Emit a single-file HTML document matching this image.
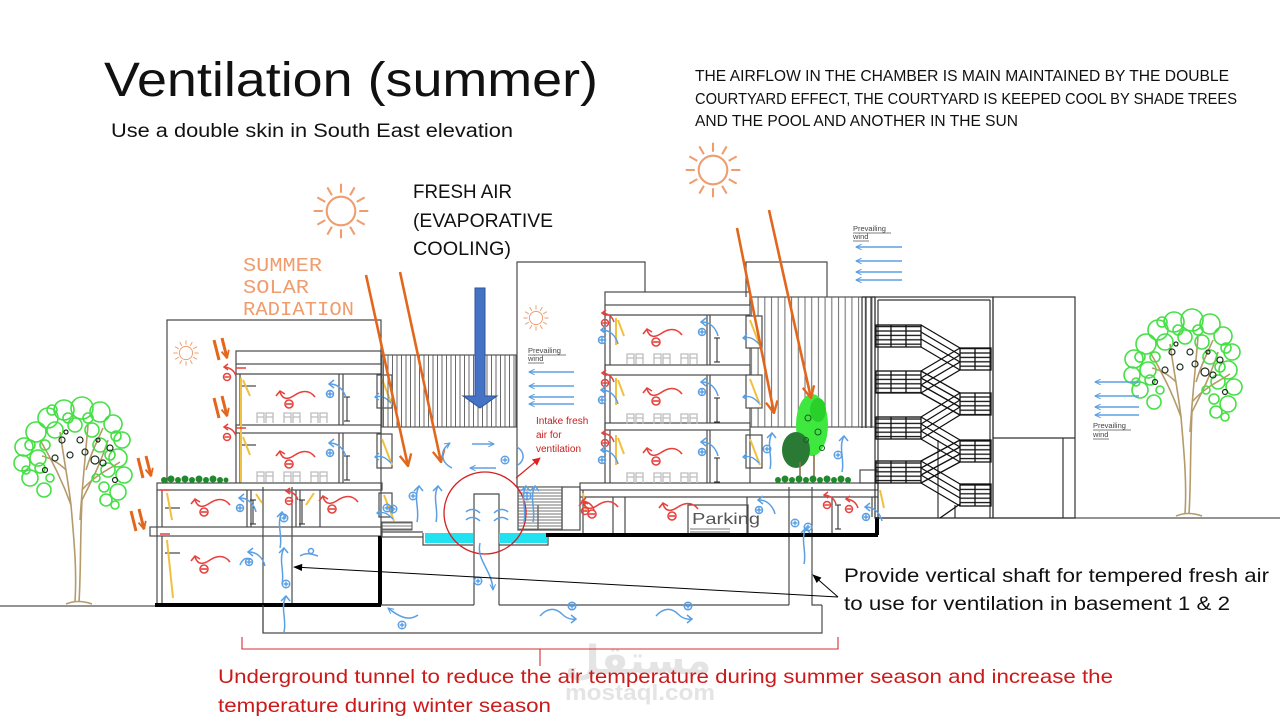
<!DOCTYPE html>
<html><head><meta charset="utf-8">
<style>
html,body{margin:0;padding:0;background:#fff;}
svg{display:block;}
text{font-family:"Liberation Sans","DejaVu Sans",sans-serif;}
text.mono{font-family:"Liberation Mono",monospace;}
text.ar{font-family:"DejaVu Sans",sans-serif;}
</style></head><body>
<svg xmlns="http://www.w3.org/2000/svg" width="1280" height="720" viewBox="0 0 1280 720">
<defs>
<marker id="mo" viewBox="0 0 12 12" refX="11" refY="6" markerWidth="14" markerHeight="14" markerUnits="userSpaceOnUse" orient="auto"><path d="M1,1 L11,6 L1,11" fill="none" stroke="#e2671c" stroke-width="2"/></marker>
<marker id="mo2" viewBox="0 0 12 12" refX="11" refY="6" markerWidth="9" markerHeight="9" markerUnits="userSpaceOnUse" orient="auto"><path d="M1,1 L11,6 L1,11" fill="none" stroke="#e2671c" stroke-width="2.5"/></marker>
<marker id="mb" viewBox="0 0 10 10" refX="9" refY="5" markerWidth="7" markerHeight="7" markerUnits="userSpaceOnUse" orient="auto"><path d="M1,1 L9,5 L1,9" fill="none" stroke="#5b9fe3" stroke-width="1.5"/></marker>
<marker id="mr" viewBox="0 0 10 10" refX="9" refY="5" markerWidth="8" markerHeight="8" markerUnits="userSpaceOnUse" orient="auto"><path d="M0,0 L10,5 L0,10 z" fill="#e02020"/></marker>
<marker id="mk" viewBox="0 0 10 10" refX="9" refY="5" markerWidth="11" markerHeight="9" markerUnits="userSpaceOnUse" orient="auto"><path d="M0,1 L10,5 L0,9 z" fill="#000"/></marker>
<pattern id="vs" width="4.5" height="10" patternUnits="userSpaceOnUse"><line x1="1" y1="0" x2="1" y2="10" stroke="#6a6a6a" stroke-width="1"/></pattern>
<pattern id="vs2" width="6.7" height="10" patternUnits="userSpaceOnUse"><line x1="1" y1="0" x2="1" y2="10" stroke="#777" stroke-width="1.1"/></pattern>
<pattern id="hs" width="10" height="3" patternUnits="userSpaceOnUse"><line x1="0" y1="1" x2="10" y2="1" stroke="#666" stroke-width="0.9"/></pattern>
<pattern id="ls" width="10" height="4.4" patternUnits="userSpaceOnUse"><line x1="0" y1="1" x2="10" y2="1" stroke="#111" stroke-width="1.3"/></pattern>

<g id="rs" fill="none" stroke="#e8413c" stroke-width="1.6">
<path d="M40,2 C34,-6 26,-4 20,0 C14,4 8,6 5,-3"/>
<path d="M1,1 L5,-4 L10,-1"/>
<circle cx="14" cy="9" r="4"/><path d="M11,9 H17"/>
</g>
<g id="rsm" fill="none" stroke="#e8413c" stroke-width="1.5">
<path d="M14,10 C12,4 8,2 3,1"/><path d="M6,-2 L2,1 L6,4"/>
<circle cx="5" cy="11" r="3.5"/><path d="M2.5,11 H7.5"/>
</g>
<g id="bs" fill="none" stroke="#5b9fe3" stroke-width="1.5">
<path d="M20,14 C18,6 12,0 4,0"/>
<path d="M8,-4 L3,0 L8,4"/>
<circle cx="4" cy="10" r="3.5"/><path d="M1.5,10 H6.5 M4,7.5 V12.5"/>
</g>
<g id="bu" fill="none" stroke="#5b9fe3" stroke-width="1.5">
<path d="M6,36 C9,24 2,12 8,0"/>
<path d="M3,5 L8,0 L12,5"/>
</g>
<g id="bp" fill="none" stroke="#5b9fe3" stroke-width="1.4">
<circle cx="0" cy="0" r="3.8"/><path d="M-2.5,0 H2.5 M0,-2.5 V2.5"/>
</g>
<g id="bt" fill="none" stroke="#5b9fe3" stroke-width="1.5">
<path d="M0,8 C8,-1 16,0 22,6 C26,10 30,12 36,11"/><path d="M31,7 L36,11 L31,15"/>
<circle cx="32" cy="-2" r="3.8"/><path d="M29.5,-2 H34.5 M32,-4.5 V0.5"/>
</g>
<g id="wy" fill="none">
<path d="M3,2 L13,28" stroke="#f0c040" stroke-width="2"/>
<path d="M12,26 C8,22 4,18 -4,20" stroke="#5b9fe3" stroke-width="1.4"/>
<path d="M0,16 L-4,20 L0,23" stroke="#5b9fe3" stroke-width="1.3"/>
</g>
<g id="fa" fill="none" stroke="#bdbdbd" stroke-width="1.3">
<path d="M0,11 V1 H7 V11 M0,5 H7 M9,11 V1 H16 V11 M9,5 H16"/>
<path d="M27,11 V1 H34 V11 M27,5 H34 M36,11 V1 H43 V11 M36,5 H43"/>
<path d="M54,11 V1 H61 V11 M54,5 H61 M63,11 V1 H70 V11 M63,5 H70"/>
</g>
<g id="dm" stroke="#222" stroke-width="1" fill="none">
<path d="M0,0 V24 M-3,0 H3 M-3,24 H3"/>
</g>
<g id="sun" fill="none" stroke="#ef9d6e" stroke-width="1.6">
<circle cx="0" cy="0" r="11"/>
<path d="M14,0 L21,0 M12.1,7 L18.2,10.5 M7,12.1 L10.5,18.2 M0,14 L0,21 M-7,12.1 L-10.5,18.2 M-12.1,7 L-18.2,10.5 M-14,0 L-21,0 M-12.1,-7 L-18.2,-10.5 M-7,-12.1 L-10.5,-18.2 M0,-14 L0,-21 M7,-12.1 L10.5,-18.2 M12.1,-7 L18.2,-10.5"/>
</g>
<g id="dd">
<path d="M0,0 L5,20 M8,-2 L13,18" stroke="#e2671c" stroke-width="3" fill="none" marker-end="url(#mo2)"/>
</g>
<g id="tree">
<g fill="none" stroke="#b59a6a" stroke-width="1.6">
<path d="M75,602 C77,570 74,540 71,505"/>
<path d="M79,602 C81,570 80,540 82,500"/>
<path d="M71,505 C62,480 52,460 40,440"/>
<path d="M71,505 C68,480 64,460 60,432"/>
<path d="M80,520 C82,490 85,460 88,425"/>
<path d="M82,500 C92,480 100,465 108,440"/>
<path d="M82,490 C95,475 108,470 120,462"/>
<path d="M66,470 C58,462 50,458 42,456"/>
<path d="M86,470 C92,450 98,440 103,428"/>
<path d="M66,604 Q78,599 92,604"/>
</g>
<g fill="none" stroke="#44e044" stroke-width="1.6">
<circle cx="48" cy="418" r="10"/><circle cx="64" cy="410" r="10"/><circle cx="82" cy="408" r="11"/><circle cx="100" cy="412" r="10"/><circle cx="113" cy="424" r="9"/><circle cx="36" cy="432" r="10"/><circle cx="24" cy="447" r="9"/><circle cx="22" cy="463" r="8"/><circle cx="30" cy="478" r="8"/><circle cx="44" cy="490" r="7"/><circle cx="38" cy="458" r="8"/><circle cx="55" cy="430" r="8"/><circle cx="122" cy="440" r="8"/><circle cx="118" cy="458" r="9"/><circle cx="124" cy="475" r="8"/><circle cx="118" cy="492" r="8"/><circle cx="106" cy="500" r="6"/><circle cx="108" cy="470" r="7"/><circle cx="92" cy="430" r="7"/><circle cx="75" cy="425" r="7"/><circle cx="100" cy="445" r="7"/>
<circle cx="45" cy="445" r="5"/><circle cx="30" cy="445" r="5"/><circle cx="40" cy="468" r="5"/><circle cx="50" cy="478" r="4"/><circle cx="52" cy="410" r="5"/><circle cx="88" cy="418" r="5"/><circle cx="110" cy="455" r="5"/><circle cx="104" cy="487" r="5"/><circle cx="115" cy="505" r="4"/><circle cx="96" cy="478" r="4"/><circle cx="68" cy="418" r="5"/><circle cx="116" cy="436" r="5"/><circle cx="26" cy="470" r="4"/>
</g>
<g fill="none" stroke="#1e2e1e" stroke-width="1.2">
<circle cx="62" cy="440" r="3"/><circle cx="70" cy="455" r="3"/><circle cx="85" cy="452" r="3"/><circle cx="95" cy="460" r="4"/><circle cx="103" cy="463" r="3"/><circle cx="55" cy="458" r="3"/><circle cx="110" cy="448" r="3"/><circle cx="80" cy="440" r="3"/><circle cx="45" cy="470" r="2.5"/><circle cx="115" cy="480" r="2.5"/><circle cx="66" cy="432" r="2"/><circle cx="98" cy="440" r="2"/>
</g>
</g>
</defs>

<rect width="1280" height="720" fill="#fff"/>

<!-- watermark (behind) -->
<text class="ar" x="565" y="674" font-size="40" font-weight="bold" fill="#e4e4e4">مستقل</text>
<text x="565" y="700" font-size="22" font-weight="bold" fill="#e4e4e4" textLength="150" lengthAdjust="spacingAndGlyphs">mostaql.com</text>

<!-- TEXT HEADERS -->
<text x="104" y="96" font-size="48" textLength="494" lengthAdjust="spacingAndGlyphs" fill="#111">Ventilation (summer)</text>
<text x="111" y="137" font-size="19" textLength="402" lengthAdjust="spacingAndGlyphs" fill="#111">Use a double skin in South East  elevation</text>
<g font-size="15.5" fill="#111">
<text x="695" y="81" textLength="534" lengthAdjust="spacingAndGlyphs">THE AIRFLOW IN THE CHAMBER IS MAIN MAINTAINED BY THE DOUBLE</text>
<text x="695" y="104" textLength="542" lengthAdjust="spacingAndGlyphs">COURTYARD EFFECT, THE COURTYARD IS KEEPED COOL BY SHADE TREES</text>
<text x="695" y="126" textLength="323" lengthAdjust="spacingAndGlyphs">AND THE POOL AND ANOTHER IN THE SUN</text>
</g>
<g font-size="19" fill="#111">
<text x="413" y="198" textLength="99" lengthAdjust="spacingAndGlyphs">FRESH AIR</text>
<text x="413" y="227" textLength="140" lengthAdjust="spacingAndGlyphs">(EVAPORATIVE</text>
<text x="413" y="255" textLength="98" lengthAdjust="spacingAndGlyphs">COOLING)</text>
</g>
<g font-size="19" fill="#ef9d6e">
<text class="mono" x="243" y="271" textLength="79" lengthAdjust="spacingAndGlyphs">SUMMER</text>
<text class="mono" x="243" y="293" textLength="66" lengthAdjust="spacingAndGlyphs">SOLAR</text>
<text class="mono" x="243" y="315" textLength="111" lengthAdjust="spacingAndGlyphs">RADIATION</text>
</g>

<!-- suns -->
<use href="#sun" transform="translate(341,211) scale(1.3)"/>
<use href="#sun" transform="translate(713,170) scale(1.3)"/>
<use href="#sun" transform="translate(186,353) scale(0.6)"/>
<use href="#sun" transform="translate(536,318) scale(0.6)"/>

<!-- GROUND -->
<g stroke="#555" stroke-width="1.3" fill="none">
<path d="M0,606 H156"/>
<path d="M878,518 H1280"/>
</g>

<!-- LEFT BUILDING -->
<g stroke="#4a4a4a" stroke-width="1.2" fill="none">
<path d="M167,483 V320 H381 V536"/>
<rect x="236" y="351" width="145" height="13"/>
<path d="M236,374 H381"/>
<rect x="236" y="425" width="145" height="8"/>
<rect x="157" y="483" width="225" height="7"/>
<rect x="150" y="527" width="232" height="9"/>
<path d="M236,364 V483 M240,374 V425 M240,433 V483"/>
<path d="M339,374 V425 M343,374 V425 M339,433 V483 M343,433 V483"/>
<rect x="377" y="375" width="15" height="33"/>
<rect x="377" y="434" width="15" height="34"/>
<rect x="379" y="493" width="13" height="24"/>
<path d="M157,490 V605 M162,490 V527 M162,536 V605"/>
<path d="M247,490 V527 M251,490 V527 M296,490 V527 M300,490 V527 M320,490 V527"/>
<path d="M263,487 V633 M292,487 V605"/>
<path d="M240,386 H256 M240,445 H256 M165,508 H180 M165,553 H180"/>
</g>
<path d="M241,378 V482" stroke="#f0c040" stroke-width="2"/>
<path d="M243,380 L250,396 M243,437 L250,455 M167,493 L172,520 M167,540 L173,598 M314,493 L306,505 M256,494 L262,503" stroke="#f0c040" stroke-width="2" fill="none"/>
<path d="M155,605 H381 M380,536 V605" stroke="#000" stroke-width="4"/>
<!-- hedge -->
<g fill="#1f8a2c"><circle cx="164" cy="480" r="3"/><circle cx="171" cy="479" r="3.5"/><circle cx="178" cy="480" r="3"/><circle cx="185" cy="479" r="3.5"/><circle cx="192" cy="480" r="3"/><circle cx="199" cy="479" r="3.5"/><circle cx="206" cy="480" r="3"/><circle cx="213" cy="479" r="3.5"/><circle cx="220" cy="480" r="3"/><circle cx="226" cy="480" r="2.5"/></g>
<use href="#fa" x="257" y="412"/>
<use href="#fa" x="257" y="471"/>
<use href="#dm" x="347" y="397"/>
<use href="#dm" x="347" y="456"/>
<use href="#dm" x="253" y="500"/>
<use href="#dm" x="302" y="500"/>
<use href="#wy" x="379" y="377"/>
<use href="#wy" x="379" y="437"/>
<use href="#wy" x="381" y="493"/>

<!-- MIDDLE -->
<rect x="382" y="355" width="134" height="72" fill="url(#vs)" stroke="#555" stroke-width="1.2"/>
<g stroke="#4a4a4a" stroke-width="1.2" fill="none">
<path d="M517,487 V262 H645 V292"/>
<path d="M382,532 H423 M423,533 V545 H473 M499,545 H548 V533"/>
<path d="M474,605 V494 H499 V605"/>
<path d="M381,605 H474 M499,605 H789 M381,537 H423"/>
<rect x="518" y="487" width="44" height="43"/>
<rect x="562" y="487" width="18" height="43"/>
<path d="M538,505 V530"/>
</g>
<rect x="382" y="522" width="30" height="8" fill="url(#hs)" stroke="#555" stroke-width="1"/>
<rect x="518" y="487" width="44" height="43" fill="url(#hs)"/>
<rect x="425" y="533" width="48" height="10" fill="#22e2f2"/>
<rect x="499" y="533" width="48" height="10" fill="#22e2f2"/>

<!-- stripes right -->
<rect x="750" y="297" width="125" height="130" fill="url(#vs2)" stroke="#555" stroke-width="1.2"/>
<g stroke="#4a4a4a" stroke-width="1.2" fill="none">
<path d="M746,297 V262 H827 V297"/>
<rect x="605" y="292" width="145" height="13"/>
<path d="M605,315 H750"/>
<rect x="605" y="365" width="145" height="10" fill="#fff"/>
<rect x="605" y="423" width="145" height="7" fill="#fff"/>
<path d="M605,305 V483 M610,315 V365 M610,375 V423 M610,430 V483"/>
<path d="M707,315 V365 M710,315 V365 M707,375 V423 M710,375 V423 M707,430 V483 M710,430 V483"/>
<rect x="746" y="316" width="16" height="32" fill="#fff"/>
<rect x="746" y="375" width="16" height="33" fill="#fff"/>
<rect x="746" y="435" width="16" height="33" fill="#fff"/>
<path d="M750,430 V483"/>
<rect x="580" y="483" width="298" height="7"/>
<path d="M580,497 H878"/>
<path d="M583,490 V535 M613,497 V535 M625,497 V535 M747,497 V535 M789,487 V605 M812,487 V605 H822 M832,497 V535 M872,497 V517"/>
<rect x="688" y="505" width="60" height="30"/>
<path d="M263,605 V633 H822 V605"/>
<rect x="860" y="470" width="18" height="13"/>
</g>
<rect x="690" y="528" width="40" height="6" fill="url(#hs)"/>
<path d="M546,535 H878 M877,517 V535" stroke="#000" stroke-width="4" fill="none"/>
<path d="M616,318 V345 M616,378 V405 M616,435 V465" stroke="#f0c040" stroke-width="2"/>
<path d="M618,320 L624,336 M618,380 L624,396 M618,438 L624,454 M583,493 L586,512 M880,490 L884,508" stroke="#f0c040" stroke-width="2" fill="none"/>
<use href="#wy" x="747" y="318"/>
<use href="#wy" x="747" y="377"/>
<use href="#wy" x="747" y="437"/>
<use href="#fa" x="627" y="353"/>
<use href="#fa" x="627" y="413"/>
<use href="#fa" x="627" y="472"/>
<use href="#dm" x="717" y="338"/>
<use href="#dm" x="717" y="398"/>
<use href="#dm" x="717" y="458"/>
<use href="#dm" x="838" y="505"/>
<text x="692" y="524" font-size="16" fill="#555" textLength="68" lengthAdjust="spacingAndGlyphs">Parking</text>

<!-- courtyard tree -->
<ellipse cx="812" cy="425" rx="16" ry="31" fill="#3ee83e"/>
<ellipse cx="796" cy="450" rx="14" ry="18" fill="#2a7a35"/>
<ellipse cx="818" cy="410" rx="8" ry="12" fill="#2ad02a"/>
<g fill="none" stroke="#1a5a22" stroke-width="1"><circle cx="808" cy="418" r="3"/><circle cx="818" cy="432" r="3"/><circle cx="806" cy="440" r="2.5"/><circle cx="822" cy="448" r="2.5"/></g>
<path d="M800,462 V480 M814,455 V480" stroke="#8a7050" stroke-width="1.6"/>
<g fill="#1f8a2c"><circle cx="778" cy="480" r="3"/><circle cx="785" cy="479" r="3.5"/><circle cx="792" cy="480" r="3"/><circle cx="799" cy="479" r="3.5"/><circle cx="806" cy="480" r="3"/><circle cx="813" cy="479" r="3.5"/><circle cx="820" cy="480" r="3"/><circle cx="827" cy="479" r="3.5"/><circle cx="834" cy="480" r="3"/><circle cx="841" cy="479" r="3.5"/><circle cx="848" cy="480" r="3"/></g>

<!-- STAIR BLOCK -->
<g stroke="#333" stroke-width="1.2" fill="none">
<rect x="875" y="297" width="118" height="221"/>
<path d="M878,300 V518 M878,300 H990 M990,300 V518"/>
<path d="M862,297 H875 M862,297 V428 M866,297 V428 M871,297 V428"/>
<rect x="993" y="297" width="82" height="221"/>
<path d="M993,438 H1075 M1063,438 V518"/>
<path d="M938,440 V518 M955,505 V518"/>
</g>
<g stroke="#111" stroke-width="1.3">
<rect x="876" y="325" width="45" height="22" fill="url(#ls)"/>
<rect x="876" y="371" width="45" height="22" fill="url(#ls)"/>
<rect x="876" y="417" width="45" height="22" fill="url(#ls)"/>
<rect x="876" y="461" width="45" height="22" fill="url(#ls)"/>
<rect x="960" y="348" width="31" height="22" fill="url(#ls)"/>
<rect x="960" y="393" width="31" height="22" fill="url(#ls)"/>
<rect x="960" y="440" width="31" height="22" fill="url(#ls)"/>
<rect x="960" y="484" width="31" height="22" fill="url(#ls)"/>
<path d="M891,325 V347 M906,325 V347 M891,371 V393 M906,371 V393 M891,417 V439 M906,417 V439 M891,461 V483 M906,461 V483 M975,348 V370 M975,393 V415 M975,440 V462 M975,484 V506" fill="none"/>
<path fill="none" d="M921,325L960,348 M921,332L960,355 M921,339L960,362 M921,347L960,370 M960,348L921,371 M960,355L921,378 M960,362L921,385 M960,370L921,393 M921,371L960,393 M921,378L960,400 M921,385L960,407 M921,393L960,415 M960,393L921,417 M960,400L921,424 M960,407L921,431 M960,415L921,439 M921,417L960,440 M921,424L960,447 M921,431L960,454 M921,439L960,462 M960,440L921,461 M960,447L921,468 M960,454L921,475 M960,462L921,483 M921,461L960,484 M921,468L960,491 M921,475L960,498 M921,483L960,506 M940,518 L960,504"/>
</g>

<!-- TREES -->
<use href="#tree"/>
<use href="#tree" transform="translate(1110,-88)"/>

<!-- ORANGE RAYS -->
<g stroke="#e2671c" stroke-width="2.6" fill="none" marker-end="url(#mo)">
<path d="M366,275 L408,466"/>
<path d="M400,272 L441,462"/>
<path d="M737,228 L774,413"/>
<path d="M769,210 L811,398"/>
</g>
<use href="#dd" x="214" y="340"/>
<use href="#dd" x="214" y="398"/>
<use href="#dd" x="138" y="458"/>
<use href="#dd" x="131" y="511"/>

<!-- big blue arrow -->
<path d="M475,288 H485 V396 H497 L480,408 L463,396 H475 Z" fill="#4472c4" stroke="#2f5597" stroke-width="1"/>

<!-- red circle + intake -->
<circle cx="485" cy="513" r="41" fill="none" stroke="#d42020" stroke-width="1.3"/>
<path d="M516,478 L540,458" stroke="#e02020" stroke-width="1.2" marker-end="url(#mr)"/>
<g font-size="10" fill="#c81e1e">
<text x="536" y="424">Intake fresh</text>
<text x="536" y="438">air for</text>
<text x="536" y="452">ventilation</text>
</g>

<!-- PREVAILING WIND -->
<g font-size="7.5" fill="#444">
<text x="528" y="353">Prevailing</text><text x="528" y="361">wind</text>
<text x="853" y="231">Prevailing</text><text x="853" y="239">wind</text>
<text x="1093" y="428">Prevailing</text><text x="1093" y="437">wind</text>
</g>
<g stroke="#555" stroke-width="0.7"><path d="M528,355 H566 M528,363 H544 M853,233 H891 M853,241 H869 M1093,430 H1131 M1093,439 H1109"/></g>
<g stroke="#5b9fe3" stroke-width="1.4" marker-end="url(#mb)" fill="none">
<path d="M574,372 H529"/><path d="M574,386 H529"/><path d="M574,397 H529"/><path d="M574,404 H529"/>
<path d="M902,247 H856"/><path d="M902,261 H856"/><path d="M902,272 H856"/><path d="M902,280 H856"/>
<path d="M1139,382 H1095"/><path d="M1139,396 H1095"/><path d="M1139,407 H1095"/><path d="M1139,415 H1095"/>
</g>

<!-- RED SWIRLS -->
<use href="#rs" x="275" y="395"/>
<use href="#rs" x="275" y="455"/>
<use href="#rs" x="190" y="503"/>
<use href="#rs" x="318" y="500"/>
<use href="#rs" x="190" y="560"/>
<use href="#rs" x="642" y="333"/>
<use href="#rs" x="642" y="392"/>
<use href="#rs" x="642" y="452"/>
<use href="#rs" x="578" y="505"/>
<use href="#rs" x="658" y="507"/>
<use href="#rsm" x="222" y="366"/>
<use href="#rsm" x="222" y="426"/>
<use href="#rsm" x="284" y="490"/>
<use href="#rsm" x="600" y="312"/>
<use href="#rsm" x="600" y="372"/>
<use href="#rsm" x="600" y="432"/>
<use href="#rsm" x="822" y="494"/>
<use href="#rsm" x="844" y="498"/>
<use href="#rsm" x="580" y="500"/>
<g fill="none" stroke="#e8413c" stroke-width="1.4"><path d="M160,490 H170 M160,534 H170 M236,368 H246 M236,428 H246"/></g>

<!-- BLUE SWIRLS -->
<use href="#bs" x="326" y="384"/>
<use href="#bs" x="326" y="443"/>
<use href="#bs" x="698" y="322"/>
<use href="#bs" x="698" y="382"/>
<use href="#bs" x="698" y="442"/>
<use href="#bs" x="598" y="330"/>
<use href="#bs" x="598" y="390"/>
<use href="#bs" x="598" y="450"/>
<use href="#bs" x="236" y="498"/>
<use href="#bs" x="755" y="500"/>
<use href="#bs" x="862" y="507"/>
<use href="#bs" x="245" y="552"/>
<g fill="none" stroke="#5b9fe3" stroke-width="1.5">
<path d="M300,556 C306,552 312,554 318,556"/><circle cx="311" cy="551" r="2.5"/>
<path d="M250,560 C246,556 242,560 240,565"/>
</g>
<use href="#bu" x="276" y="548"/>
<use href="#bu" x="274" y="512"/>
<use href="#bu" x="278" y="596"/>
<use href="#bp" x="286" y="584"/>
<use href="#bp" x="284" y="518"/>
<use href="#bu" x="411" y="486"/>
<use href="#bu" x="430" y="486"/>
<use href="#bu" x="518" y="486"/>
<use href="#bu" x="527" y="486"/>
<use href="#bp" x="413" y="496"/>
<use href="#bp" x="393" y="509"/>
<use href="#bp" x="527" y="496"/>
<use href="#bp" x="505" y="460"/>
<g fill="none" stroke="#5b9fe3" stroke-width="1.5">
<path d="M472,444 H494" marker-end="url(#mb)"/>
<path d="M496,468 H470" marker-end="url(#mb)"/>
<path d="M452,468 C440,462 440,450 450,443" marker-end="url(#mb)"/>
<path d="M517,447 C525,452 525,460 518,465"/>
<path d="M466,512 C470,508 476,509 480,513 M466,520 C470,516 476,517 480,521 M508,512 C504,508 498,509 494,513 M508,520 C504,516 498,517 494,521"/>
<path d="M480,543 C476,560 492,570 493,590" marker-end="url(#mb)"/>
</g>
<use href="#bp" x="478" y="581"/>
<use href="#bt" x="540" y="608"/>
<use href="#bt" x="656" y="608"/>
<g fill="none" stroke="#5b9fe3" stroke-width="1.5">
<path d="M418,615 C408,622 398,616 388,608" marker-end="url(#mb)"/>
</g>
<use href="#bp" x="402" y="625"/>
<use href="#bu" x="798" y="528"/>
<use href="#bp" x="808" y="527"/>
<use href="#bu" x="764" y="433"/>
<use href="#bu" x="836" y="436"/>
<use href="#bp" x="767" y="449"/>
<use href="#bp" x="838" y="455"/>
<use href="#bp" x="795" y="523"/>
<use href="#bp" x="387" y="508"/>

<!-- BLACK ARROWS -->
<g stroke="#000" stroke-width="1" fill="none">
<path d="M838,597 L294,567" marker-end="url(#mk)"/>
<path d="M838,597 L813,575" marker-end="url(#mk)"/>
</g>
<g font-size="19" fill="#111">
<text x="844" y="582" textLength="425" lengthAdjust="spacingAndGlyphs">Provide vertical shaft for tempered fresh air</text>
<text x="844" y="610" textLength="386" lengthAdjust="spacingAndGlyphs">to use for ventilation in basement 1 &amp; 2</text>
</g>

<!-- BRACKET + RED TEXT -->
<path d="M242,637 V649 H838 V637 M540,649 V666" stroke="#d03030" stroke-width="1.1" fill="none"/>
<g font-size="19.5" fill="#cc1a1a">
<text x="218" y="683" textLength="895" lengthAdjust="spacingAndGlyphs">Underground tunnel to reduce the air temperature during summer season and increase  the</text>
<text x="218" y="712" textLength="333" lengthAdjust="spacingAndGlyphs">temperature during winter season</text>
</g>
</svg>
</body></html>
